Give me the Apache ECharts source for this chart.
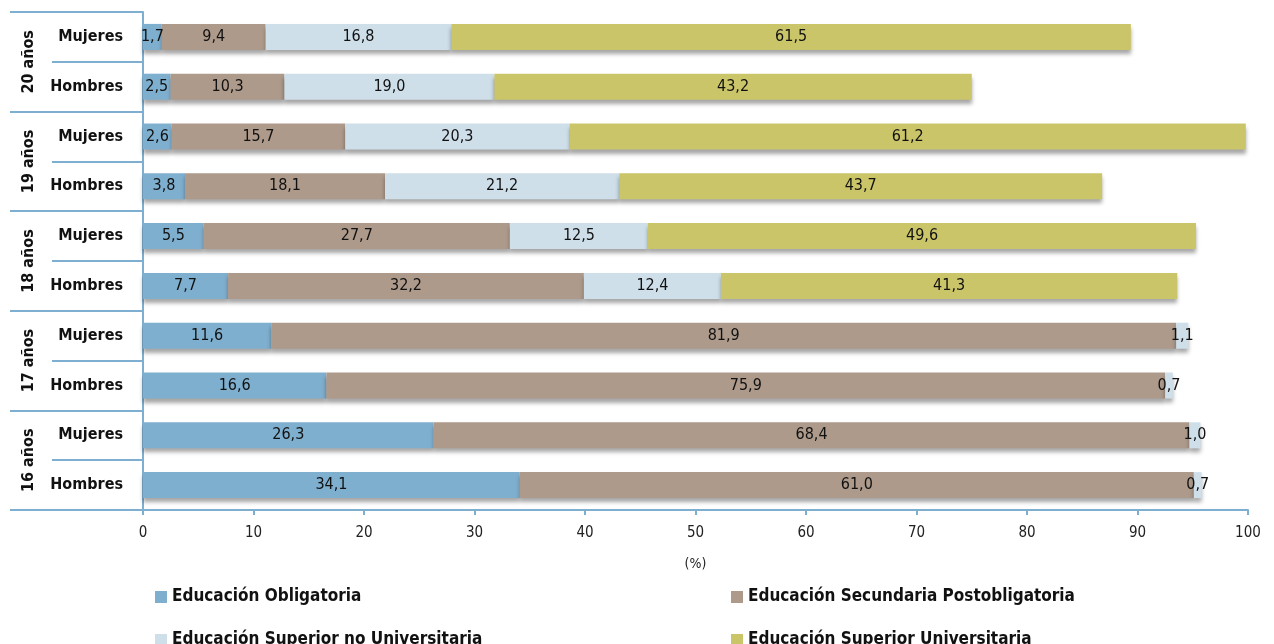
<!DOCTYPE html>
<html><head><meta charset="utf-8">
<script src="https://cdn.jsdelivr.net/npm/echarts@6/dist/echarts.min.js"></script>
<style>html,body{margin:0;padding:0;background:#fff}#c{width:1274px;height:644px}</style>
</head><body><div id="c"></div>
<script>
const groups = ['16 años','17 años','18 años','19 años','20 años'];
const sexes = ['Hombres','Mujeres'];
const seriesNames = ['Educación Obligatoria','Educación Secundaria Postobligatoria','Educación Superior no Universitaria','Educación Superior Universitaria'];
// bottom to top: 16H,16M,17H,17M,18H,18M,19H,19M,20H,20M
const obligatoria   = [34.1, 26.3, 16.6, 11.6, 7.7, 5.5, 3.8, 2.6, 2.5, 1.7];
const secundaria    = [61.0, 68.4, 75.9, 81.9, 32.2, 27.7, 18.1, 15.7, 10.3, 9.4];
const superiorNoUni = [0.7, 1.0, 0.7, 1.1, 12.4, 12.5, 21.2, 20.3, 19.0, 16.8];
const universitaria = [0, 0, 0, 0, 41.3, 49.6, 43.7, 61.2, 43.2, 61.5];
const xTicks = [0,10,20,30,40,50,60,70,80,90,100];
const colors = ['#7fafcf','#ad9a8b','#cedfea','#cbc56a'];

const FONT = "'Liberation Sans Narrow','DejaVu Sans Condensed','Roboto Condensed',sans-serif";
const AX = '#7fafd0';
const cats = [];
groups.forEach(g => sexes.forEach(s => cats.push(g + '|' + s)));

const values = [obligatoria, secundaria, superiorNoUni, universitaria];
const series = values.map((v, i) => ({
  name: seriesNames[i],
  type: 'bar',
  stack: 'total',
  barWidth: 26,
  yAxisIndex: 0,
  itemStyle: { color: colors[i], shadowColor: 'rgba(0,0,0,0.35)', shadowBlur: 4, shadowOffsetY: 4 },
  label: {
    show: true, position: 'inside', color: '#111', fontFamily: FONT, fontSize: 16,
    formatter: p => p.value ? p.value.toFixed(1).replace('.', ',') : ''
  },
  data: v
}));

const legendPos = [[150, 582], [726, 582], [150, 625], [726, 625]];
const legends = seriesNames.map((n, i) => ({
  orient: 'horizontal', left: legendPos[i][0], top: legendPos[i][1],
  itemWidth: 12, itemHeight: 12, icon: 'rect', data: [n],
  textStyle: { fontFamily: FONT, fontSize: 17, fontWeight: 'bold', color: '#111', lineHeight: 20 }
}));

const chart = echarts.init(document.getElementById('c'));
chart.setOption({
  animation: false,
  textStyle: { fontFamily: FONT },
  grid: { left: 143, right: 26, top: 12, bottom: 134 },
  xAxis: {
    type: 'value', min: 0, max: 100, interval: 10,
    name: '(%)', nameLocation: 'middle', nameGap: 47,
    nameTextStyle: { fontFamily: FONT, fontSize: 14, color: '#222' },
    axisLine: { show: true, lineStyle: { color: AX, width: 2 } },
    axisTick: { show: true, length: 5, lineStyle: { color: AX, width: 2 } },
    axisLabel: { fontFamily: FONT, fontSize: 15, color: '#222', margin: 16,
      customValues: xTicks },
    splitLine: { show: false }
  },
  yAxis: [{
    type: 'category', data: cats, position: 'left',
    axisLine: { show: true, lineStyle: { color: AX, width: 2 } },
    axisTick: { show: true, interval: 0, length: 91, lineStyle: { color: AX, width: 2 } },
    axisLabel: { interval: 0, fontFamily: FONT, fontSize: 16, fontWeight: 'bold', color: '#111', margin: 20,
      formatter: v => v.split('|')[1] },
    splitLine: { show: false }
  }, {
    type: 'category', data: groups, position: 'left', offset: 0,
    axisLine: { show: false },
    axisTick: { show: true, interval: 0, length: 133, lineStyle: { color: AX, width: 2 } },
    axisLabel: { interval: 0, rotate: 90, fontFamily: FONT, fontSize: 16, fontWeight: 'bold', color: '#111', margin: 106 },
    splitLine: { show: false }
  }],
  legend: legends,
  series: series
});
</script></body></html>
